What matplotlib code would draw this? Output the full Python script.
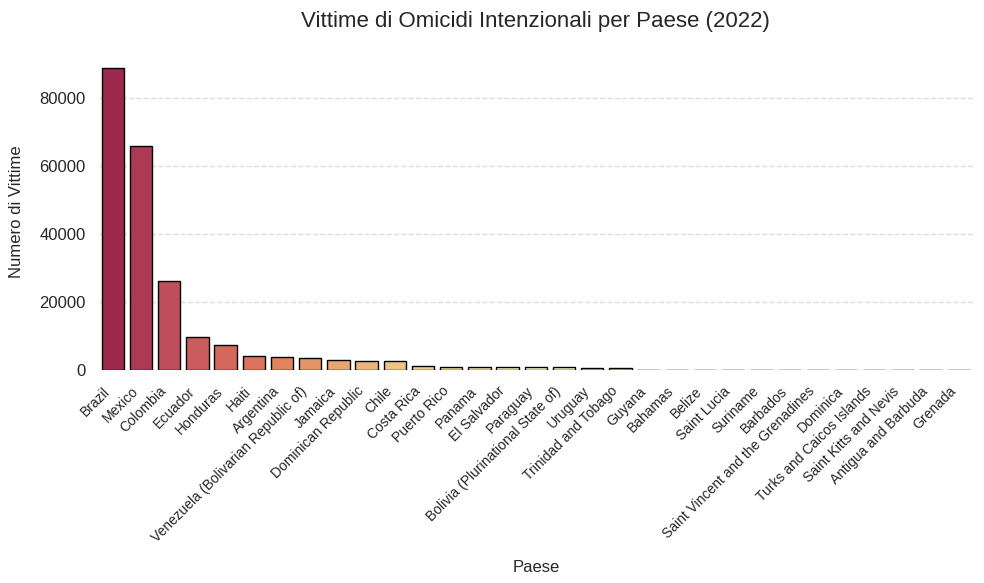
import matplotlib
matplotlib.use("Agg")
import matplotlib.pyplot as plt
import seaborn as sns
import pandas as pd

paesi = ["Brazil", "Mexico", "Colombia", "Ecuador", "Honduras", "Haiti", "Argentina",
         "Venezuela (Bolivarian Republic of)", "Jamaica", "Dominican Republic", "Chile",
         "Costa Rica", "Puerto Rico", "Panama", "El Salvador", "Paraguay",
         "Bolivia (Plurinational State of)", "Uruguay", "Trinidad and Tobago", "Guyana",
         "Bahamas", "Belize", "Saint Lucia", "Suriname", "Barbados",
         "Saint Vincent and the Grenadines", "Dominica", "Turks and Caicos Islands",
         "Saint Kitts and Nevis", "Antigua and Barbuda", "Grenada"]
vittime = [88800, 66100, 26300, 9800, 7400, 4200, 3900, 3550, 2950, 2700, 2650,
           1150, 950, 900, 880, 860, 840, 620, 600, 120, 110, 100, 70, 40, 35,
           30, 15, 12, 10, 8, 5]

df = pd.DataFrame({"Paese": paesi, "Vittime": vittime})

sns.set_theme(style="white")
plt.rcParams['font.family'] = ['Arial', 'Liberation Sans', 'DejaVu Sans']

fig = plt.figure(figsize=(9.84, 5.83), dpi=100)
ax = fig.add_axes([0.1003, 0.365, 0.8884, 0.5436])

sns.barplot(data=df, x="Paese", y="Vittime", hue="Paese", legend=False,
            palette="Spectral", edgecolor="black", linewidth=1, ax=ax)

ax.set_title("Vittime di Omicidi Intenzionali per Paese (2022)", fontsize=16, pad=19)
ax.set_xlabel("Paese", fontsize=12, labelpad=11)
ax.set_ylabel("Numero di Vittime", fontsize=12, labelpad=11)
plt.setp(ax.get_xticklabels(), rotation=45, ha="right", fontsize=10)
ax.tick_params(axis="y", labelsize=12)
ax.tick_params(axis="x", pad=4)
ax.yaxis.grid(True, linestyle="--", color="#dddddd", linewidth=1)
ax.set_axisbelow(True)
sns.despine(left=True, bottom=True)

fig.savefig("out.png", dpi=100)
